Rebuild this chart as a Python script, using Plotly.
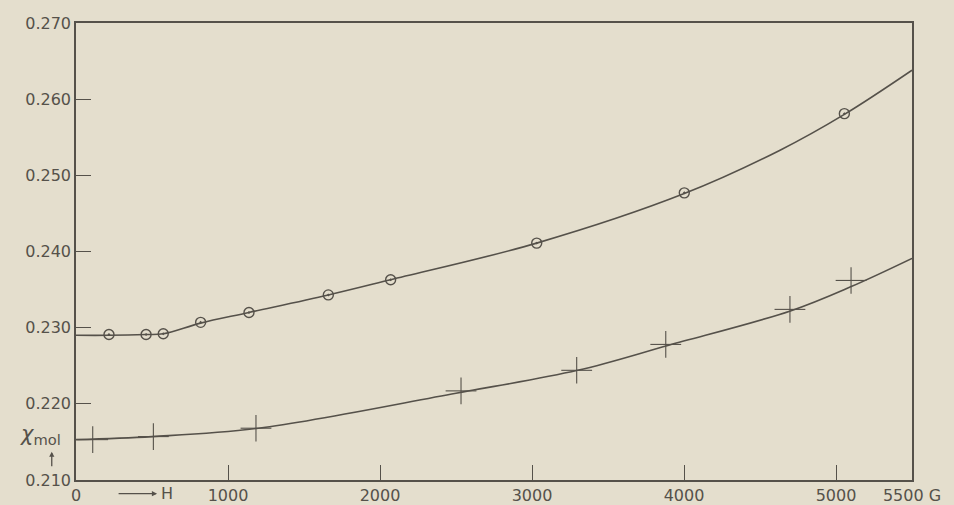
import plotly.graph_objects as go

# ---- data ----
upper_H = [217, 461, 574, 820, 1138, 1660, 2070, 3031, 4002, 5055]
upper_chi = [0.2291, 0.2291, 0.2292, 0.2307, 0.2320, 0.2343, 0.2363, 0.2411, 0.2477, 0.2581]

upper_curve_H = [0, 217, 461, 574, 820, 1138, 1660, 2070, 3031, 4002, 4632, 5055, 5500]
upper_curve_chi = [0.2290, 0.2290, 0.2291, 0.2292, 0.2306, 0.2320, 0.2343, 0.2363, 0.2411,
                   0.2476, 0.2533, 0.2580, 0.2638]

lower_H = [110, 509, 1184, 2533, 3294, 3880, 4697, 5099]
lower_chi = [0.2153, 0.2157, 0.2168, 0.2217, 0.2244, 0.2278, 0.2324, 0.2362]

lower_curve_H = [0, 500, 1200, 2500, 3300, 3900, 4700, 5100, 5500]
lower_curve_chi = [0.2153, 0.2157, 0.2168, 0.2214, 0.2244, 0.2277, 0.2322, 0.2354, 0.2391]

x_ticks = [0, 1000, 2000, 3000, 4000, 5000, 5500]
x_ticktext = ["0", "1000", "2000", "3000", "4000", "5000", "5500 G"]
y_ticks = [0.210, 0.220, 0.230, 0.240, 0.250, 0.260, 0.270]
y_ticktext = ["0.210", "0.220", "0.230", "0.240", "0.250", "0.260", "0.270"]

INK = "#55514a"
BG = "#e4decd"
FONT = "DejaVu Sans"

fig = go.Figure()

fig.add_trace(go.Scatter(x=upper_curve_H, y=upper_curve_chi, mode="lines",
                         line=dict(color=INK, width=1.6, shape="spline", smoothing=1.0),
                         hoverinfo="skip", showlegend=False))
fig.add_trace(go.Scatter(x=lower_curve_H, y=lower_curve_chi, mode="lines",
                         line=dict(color=INK, width=1.6, shape="spline", smoothing=1.0),
                         hoverinfo="skip", showlegend=False))

fig.add_trace(go.Scatter(x=upper_H, y=upper_chi, mode="markers",
                         marker=dict(symbol="circle-open-dot", size=10, color=INK,
                                     line=dict(color=INK, width=1.4)),
                         showlegend=False))
fig.add_trace(go.Scatter(x=lower_H, y=lower_chi, mode="markers",
                         marker=dict(symbol="line-ns", size=19,
                                     line=dict(color=INK, width=1.1)),
                         showlegend=False))
fig.add_trace(go.Scatter(x=lower_H, y=lower_chi, mode="markers",
                         marker=dict(symbol="line-ew", size=22,
                                     line=dict(color=INK, width=1.1)),
                         showlegend=False))

axis_common = dict(showgrid=False, zeroline=False, showline=True, linecolor=INK,
                   linewidth=1.5, mirror=True, ticks="inside", ticklen=15,
                   tickwidth=1.3, tickcolor=INK, automargin=False,
                   tickfont=dict(family=FONT, size=16, color=INK))

fig.update_xaxes(range=[0, 5500], tickvals=x_ticks, ticktext=x_ticktext, **axis_common)
fig.update_yaxes(range=[0.210, 0.270], tickvals=y_ticks, ticktext=y_ticktext, **axis_common)

# y-axis symbol  chi_mol with arrow
fig.add_annotation(xref="paper", yref="paper", x=-0.042, y=0.098, xanchor="center",
                   yanchor="middle", showarrow=False,
                   text="<i>χ</i><sub>mol</sub>",
                   font=dict(family=FONT, size=21, color=INK))
fig.add_annotation(xref="paper", yref="paper", x=-0.029, y=0.062, ax=0, ay=16,
                   axref="pixel", ayref="pixel", text="", showarrow=True,
                   arrowhead=2, arrowsize=0.8, arrowwidth=1.3, arrowcolor=INK)

# x-axis symbol  -> H
fig.add_annotation(xref="paper", yref="paper", x=0.097, y=-0.03, ax=-40, ay=0,
                   axref="pixel", ayref="pixel", text="", showarrow=True,
                   arrowhead=2, arrowsize=0.8, arrowwidth=1.3, arrowcolor=INK)
fig.add_annotation(xref="paper", yref="paper", x=0.099, y=-0.03, xanchor="left",
                   yanchor="middle", showarrow=False, text="H",
                   font=dict(family=FONT, size=16, color=INK))

fig.update_layout(width=954, height=505,
                  margin=dict(l=76, r=42, t=23, b=25),
                  paper_bgcolor=BG, plot_bgcolor=BG,
                  font=dict(family=FONT, color=INK))

fig.write_html("out.html", config={"displayModeBar": False},
               post_script="document.body.style.margin='0';"
                           "document.body.style.background='%s';" % BG)
